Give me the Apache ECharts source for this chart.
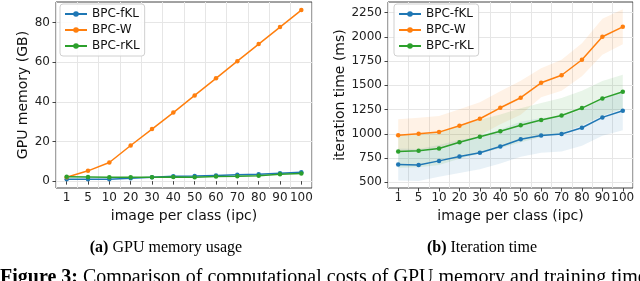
<!DOCTYPE html>
<html><head><meta charset="utf-8">
<script src="https://cdn.jsdelivr.net/npm/echarts@6/dist/echarts.min.js"></script>
<style>html,body{margin:0;padding:0;background:#fff;overflow:hidden}#c{width:640px;height:281px}</style>
</head><body><div id="c"></div>
<script>
// ---- data ----
const ipc = ['1','5','10','20','30','40','50','60','70','80','90','100'];
const seriesNames = ['BPC-fKL','BPC-W','BPC-rKL'];
const memFKL = [0.9, 0.9, 1.0, 1.5, 1.9, 2.5, 2.6, 2.9, 3.2, 3.5, 4.0, 4.5];
const memW   = [2.0, 5.2, 9.4, 18.0, 26.3, 34.6, 43.3, 51.9, 60.6, 69.2, 77.8, 86.4];
const memRKL = [2.2, 2.1, 2.0, 2.0, 2.0, 2.1, 2.0, 2.4, 2.5, 2.7, 3.5, 3.9];
const timeFKL = [683, 678, 720, 765, 803, 868, 943, 983, 998, 1062, 1169, 1237];
const timeW   = [985, 1000, 1017, 1083, 1155, 1268, 1372, 1526, 1604, 1764, 2001, 2104];
const timeRKL = [818, 824, 848, 912, 970, 1025, 1088, 1142, 1188, 1265, 1365, 1433];
const stdFKL = [165, 165, 165, 170, 170, 175, 180, 180, 180, 185, 190, 200];
const stdW   = [165, 165, 165, 170, 170, 170, 175, 150, 160, 170, 185, 180];
const stdRKL = [170, 170, 170, 170, 175, 175, 175, 175, 180, 180, 180, 175];
const memTicks = [0, 20, 40, 60, 80];
const timeTicks = [500, 750, 1000, 1250, 1500, 1750, 2000, 2250];

const colors = ['#1f77b4', '#ff7f0e', '#2ca02c'];
const FONT = 'DejaVu Sans';

function lineSeries(name, data, color, idx) {
  return {
    name, type: 'line', data, xAxisIndex: idx, yAxisIndex: idx,
    color, symbol: 'circle', symbolSize: 4.5, showSymbol: true,
    lineStyle: { width: 1.5, color }, itemStyle: { color },
    z: 5, animation: false
  };
}
function bandSeries(key, mean, std, color) {
  const lower = mean.map((m, i) => m - std[i]);
  const width = std.map(s => 2 * s);
  return [
    { name: key + '_lo', type: 'line', data: lower, xAxisIndex: 1, yAxisIndex: 1, stack: key,
      symbol: 'none', lineStyle: { opacity: 0 }, silent: true, z: 1, animation: false },
    { name: key + '_band', type: 'line', data: width, xAxisIndex: 1, yAxisIndex: 1, stack: key,
      symbol: 'none', lineStyle: { opacity: 0 }, areaStyle: { color, opacity: 0.1 },
      silent: true, z: 1, animation: false }
  ];
}

const axisLabelStyle = { fontFamily: FONT, fontSize: 12, color: '#222' };
function xAxis(gi) {
  return {
    type: 'category', gridIndex: gi, data: ipc, boundaryGap: true,
    name: 'image per class (ipc)', nameLocation: 'middle', nameGap: 17,
    nameTextStyle: { fontFamily: FONT, fontSize: 14, color: '#111' },
    axisLine: { show: false },
    axisTick: { show: true, alignWithLabel: true, length: 3.5, lineStyle: { color: '#444' } },
    axisLabel: Object.assign({ margin: 4, interval: 0 }, axisLabelStyle),
    splitLine: { show: true, interval: 0, lineStyle: { color: '#e6e6e6', width: 1 } }
  };
}
function yAxis(gi, name, min, max, ticks, gap) {
  return {
    type: 'value', gridIndex: gi, min, max,
    name, nameLocation: 'middle', nameGap: gap,
    nameTextStyle: { fontFamily: FONT, fontSize: 14, color: '#111' },
    axisLine: { show: false },
    axisTick: { show: true, length: 3.5, customValues: ticks, lineStyle: { color: '#444' } },
    axisLabel: Object.assign({ margin: 6, customValues: ticks, formatter: v => String(v) }, axisLabelStyle),
    splitLine: { show: true, lineStyle: { color: '#e6e6e6', width: 1 } }
  };
}
function legend(left, top) {
  return {
    data: seriesNames, orient: 'vertical', left, top,
    itemWidth: 22, itemHeight: 7, itemGap: 4, padding: [4, 5, 4, 4],
    backgroundColor: 'rgba(255,255,255,0.85)', borderColor: '#d0d0d0', borderWidth: 1, borderRadius: 3,
    textStyle: { fontFamily: FONT, fontSize: 12, color: '#111' },
    selectedMode: false
  };
}
const rich = { b: { fontWeight: 'bold', fontFamily: 'Liberation Serif', fontSize: 16 } };
const rich2 = { b: { fontWeight: 'bold', fontFamily: 'Liberation Serif', fontSize: 20 } };

const chart = echarts.init(document.getElementById('c'), null, { renderer: 'canvas' });
chart.setOption({
  animation: false,
  backgroundColor: '#fff',
  grid: [
    { left: 56, top: 2, width: 256, height: 186, show: true, borderColor: '#444', borderWidth: 1, backgroundColor: 'transparent' },
    { left: 388, top: 2, width: 245, height: 186, show: true, borderColor: '#444', borderWidth: 1, backgroundColor: 'transparent' }
  ],
  xAxis: [xAxis(0), xAxis(1)],
  yAxis: [
    yAxis(0, 'GPU memory (GB)', -3.47, 90.47, memTicks, 26),
    yAxis(1, 'iteration time (ms)', 440, 2360, timeTicks, 39)
  ],
  legend: [legend(60, 4), legend(394, 4)],
  series: [
    ...bandSeries('bf', timeFKL, stdFKL, colors[0]),
    ...bandSeries('bw', timeW, stdW, colors[1]),
    ...bandSeries('br', timeRKL, stdRKL, colors[2]),
    lineSeries(seriesNames[0], memFKL, colors[0], 0),
    lineSeries(seriesNames[1], memW, colors[1], 0),
    lineSeries(seriesNames[2], memRKL, colors[2], 0),
    lineSeries(seriesNames[0], timeFKL, colors[0], 1),
    lineSeries(seriesNames[1], timeW, colors[1], 1),
    lineSeries(seriesNames[2], timeRKL, colors[2], 1)
  ],
  graphic: [
    { type: 'text', x: 166, y: 248, style: {
        text: '{b|(a)} GPU memory usage', align: 'center', verticalAlign: 'middle',
        font: '16px "Liberation Serif"', fill: '#000', rich } },
    { type: 'text', x: 482, y: 248, style: {
        text: '{b|(b)} Iteration time', align: 'center', verticalAlign: 'middle',
        font: '16px "Liberation Serif"', fill: '#000', rich } },
    { type: 'text', x: 0, y: 278, style: {
        text: '{b|Figure 3:} Comparison of computational costs of GPU memory and training time',
        align: 'left', verticalAlign: 'middle',
        font: '20px "Liberation Serif"', fill: '#000', rich: rich2 } }
  ]
});
</script></body></html>
